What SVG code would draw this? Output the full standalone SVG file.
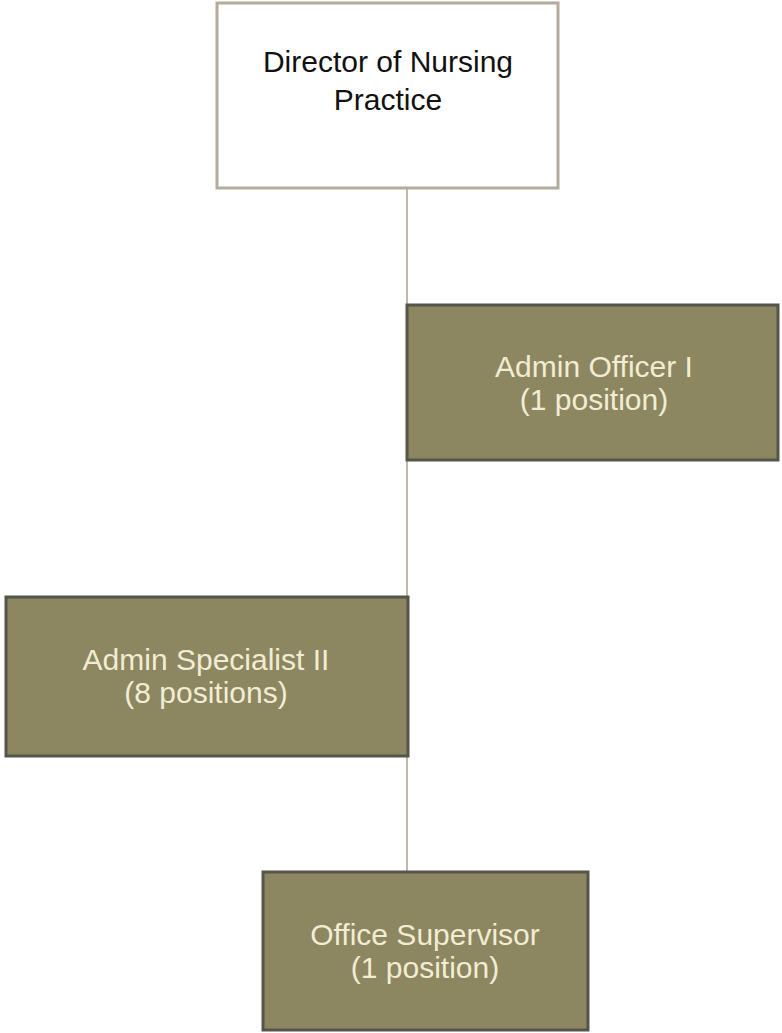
<svg xmlns="http://www.w3.org/2000/svg" width="782" height="1033" viewBox="0 0 782 1033">
  <style>
    .top { fill: #ffffff; stroke: #b3ab9c; stroke-width: 3; }
    .pos { fill: #8c8760; stroke: #55554c; stroke-width: 3; }
    .link { stroke: #aaa292; stroke-width: 1.5; fill: none; }
    .dark { font-family: "Liberation Sans", Arial, sans-serif; font-size: 30px; fill: #111111; text-anchor: middle; }
    .light { font-family: "Liberation Sans", Arial, sans-serif; font-size: 30px; fill: #f2ecd4; text-anchor: middle; }
  </style>
  <rect width="782" height="1033" fill="#ffffff"/>
  <g id="connectors">
    <line class="link" x1="407" y1="189" x2="407" y2="872"/>
  </g>
  <g id="director">
    <rect class="top" x="217" y="3" width="341" height="185"/>
    <text class="dark" x="388" y="72">Director of Nursing</text>
    <text class="dark" x="388" y="110">Practice</text>
  </g>
  <g id="admin-officer">
    <rect class="pos" x="407" y="305" width="371" height="155"/>
    <text class="light" x="594" y="377">Admin Officer I</text>
    <text class="light" x="594" y="410">(1 position)</text>
  </g>
  <g id="admin-specialist">
    <rect class="pos" x="6" y="597" width="402" height="159"/>
    <text class="light" x="206" y="670">Admin Specialist II</text>
    <text class="light" x="206" y="703">(8 positions)</text>
  </g>
  <g id="office-supervisor">
    <rect class="pos" x="263" y="872" width="325" height="158"/>
    <text class="light" x="425" y="945">Office Supervisor</text>
    <text class="light" x="425" y="978">(1 position)</text>
  </g>
</svg>
